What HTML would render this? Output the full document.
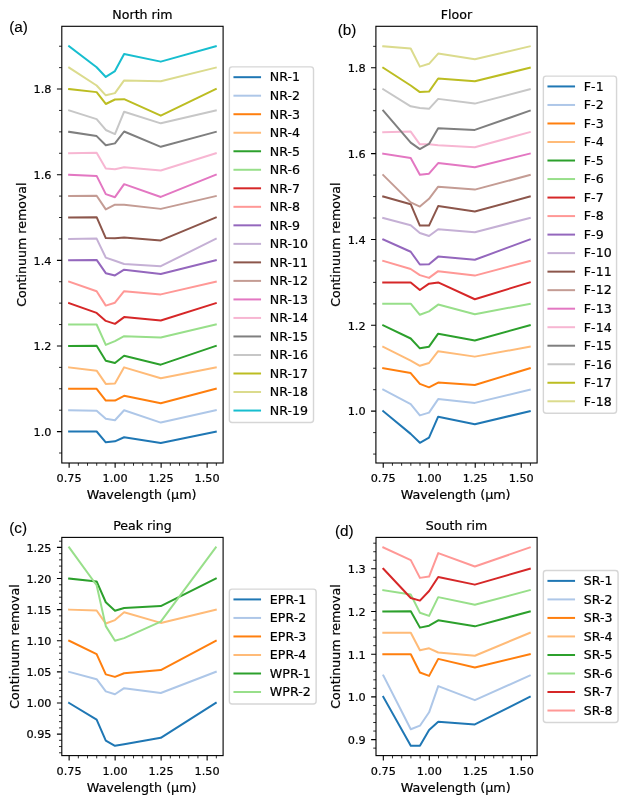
<!DOCTYPE html>
<html lang="en"><head><meta charset="utf-8"><title>Continuum removal spectra</title>
<style>html,body{margin:0;padding:0;background:#fff}svg{display:block}text{font-family:"DejaVu Sans","Liberation Sans",sans-serif;fill:#000;stroke:#000;stroke-width:.2px}.t{font-size:11.25px}.l{font-size:12.6px}.p{font-family:"Liberation Sans",Arial,sans-serif;font-size:15.3px;stroke-width:.12px}.ax{fill:none;stroke:#000;stroke-width:1.11;stroke-linejoin:miter}.tk{stroke:#000;stroke-width:1.11;fill:none}.d{fill:none;stroke-width:2.0;stroke-linejoin:round;stroke-linecap:square}.lg{fill:#fff;fill-opacity:.8;stroke:#ccc;stroke-opacity:.8;stroke-width:1.39}</style></head><body>
<svg width="627" height="805" viewBox="0 0 627 805">
<rect width="627" height="805" fill="#fff"/>
<g id="panel-a">
<polyline class="d" stroke="#1f77b4" points="69.13,431.6 96.63,431.52 105.79,442.36 114.96,441.34 124.12,437.26 160.78,442.99 215.77,431.6"/>
<polyline class="d" stroke="#aec7e8" points="69.13,410.19 96.63,410.85 105.79,418.76 114.96,420.29 124.12,410.21 160.78,422.59 215.77,410.19"/>
<polyline class="d" stroke="#ff7f0e" points="69.13,388.78 96.63,388.79 105.79,400.52 114.96,400.52 124.12,395.8 160.78,403.2 215.77,388.78"/>
<polyline class="d" stroke="#ffbb78" points="69.13,367.37 96.63,370.67 105.79,383.94 114.96,383.43 124.12,367.36 160.78,378.2 215.77,367.37"/>
<polyline class="d" stroke="#2ca02c" points="69.13,345.96 96.63,345.79 105.79,360.71 114.96,363.01 124.12,355.74 160.78,364.67 215.77,345.96"/>
<polyline class="d" stroke="#98df8a" points="69.13,324.55 96.63,324.49 105.79,344.9 114.96,341.07 124.12,336.22 160.78,337.5 215.77,324.55"/>
<polyline class="d" stroke="#d62728" points="69.13,303.14 96.63,312.88 105.79,320.92 114.96,323.85 124.12,317.09 160.78,320.54 215.77,303.14"/>
<polyline class="d" stroke="#ff9896" points="69.13,281.73 96.63,291.2 105.79,305.61 114.96,302.68 124.12,291.2 160.78,294.39 215.77,281.73"/>
<polyline class="d" stroke="#9467bd" points="69.13,260.32 96.63,259.9 105.79,273.16 114.96,275.46 124.12,269.72 160.78,273.93 215.77,260.32"/>
<polyline class="d" stroke="#c5b0d5" points="69.13,238.91 96.63,238.6 105.79,257.6 114.96,260.79 124.12,263.98 160.78,266.15 215.77,238.91"/>
<polyline class="d" stroke="#8c564b" points="69.13,217.5 96.63,217.17 105.79,238.09 114.96,238.21 124.12,237.58 160.78,240.38 215.77,217.5"/>
<polyline class="d" stroke="#c49c94" points="69.13,196.09 96.63,195.74 105.79,209.39 114.96,204.67 124.12,204.67 160.78,208.88 215.77,196.09"/>
<polyline class="d" stroke="#e377c2" points="69.13,174.68 96.63,175.89 105.79,194.13 114.96,197.19 124.12,184.18 160.78,196.94 215.77,174.68"/>
<polyline class="d" stroke="#f7b6d2" points="69.13,153.27 96.63,152.68 105.79,168.62 114.96,169.26 124.12,167.22 160.78,170.54 215.77,153.27"/>
<polyline class="d" stroke="#7f7f7f" points="69.13,131.86 96.63,136.1 105.79,145.28 114.96,143.37 124.12,131.51 160.78,146.81 215.77,131.86"/>
<polyline class="d" stroke="#c7c7c7" points="69.13,110.45 96.63,119.13 105.79,129.97 114.96,134.06 124.12,111.73 160.78,123.34 215.77,110.45"/>
<polyline class="d" stroke="#bcbd22" points="69.13,89.04 96.63,92.12 105.79,103.98 114.96,99.52 124.12,99.13 160.78,115.71 215.77,89.04"/>
<polyline class="d" stroke="#dbdb8d" points="69.13,67.63 96.63,85.48 105.79,95.31 114.96,93.14 124.12,80.38 160.78,81.28 215.77,67.63"/>
<polyline class="d" stroke="#17becf" points="69.13,46.22 96.63,67.24 105.79,76.94 114.96,71.07 124.12,53.98 160.78,61.63 215.77,46.22"/>
<path class="tk" d="M69.13 463v4.86M115.13 463v4.86M161.13 463v4.86M207.13 463v4.86M61.8 431.6h-4.86M61.8 345.96h-4.86M61.8 260.32h-4.86M61.8 174.68h-4.86M61.8 89.04h-4.86"/>
<path class="tk" style="stroke-width:.83" d="M78.33 463v2.78M87.53 463v2.78M96.73 463v2.78M105.93 463v2.78M124.33 463v2.78M133.53 463v2.78M142.73 463v2.78M151.93 463v2.78M170.33 463v2.78M179.53 463v2.78M188.73 463v2.78M197.93 463v2.78M216.33 463v2.78M61.8 453.01h-2.78M61.8 410.19h-2.78M61.8 388.78h-2.78M61.8 367.37h-2.78M61.8 324.55h-2.78M61.8 303.14h-2.78M61.8 281.73h-2.78M61.8 238.91h-2.78M61.8 217.5h-2.78M61.8 196.09h-2.78M61.8 153.27h-2.78M61.8 131.86h-2.78M61.8 110.45h-2.78M61.8 67.63h-2.78M61.8 46.22h-2.78"/>
<rect class="ax" x="61.8" y="26.3" width="161.3" height="436.7"/>
<text class="t" x="69.13" y="482.1" text-anchor="middle">0.75</text>
<text class="t" x="115.13" y="482.1" text-anchor="middle">1.00</text>
<text class="t" x="161.13" y="482.1" text-anchor="middle">1.25</text>
<text class="t" x="207.13" y="482.1" text-anchor="middle">1.50</text>
<text class="t" x="51.5" y="435.9" text-anchor="end">1.0</text>
<text class="t" x="51.5" y="350.26" text-anchor="end">1.2</text>
<text class="t" x="51.5" y="264.62" text-anchor="end">1.4</text>
<text class="t" x="51.5" y="178.98" text-anchor="end">1.6</text>
<text class="t" x="51.5" y="93.34" text-anchor="end">1.8</text>
<text class="l" style="font-size:12.73px" x="141.6" y="499.1" text-anchor="middle">Wavelength (µm)</text>
<text class="l" transform="translate(25.8 244.65) rotate(-90)" text-anchor="middle">Continuum removal</text>
<text class="l" x="142.45" y="18.85" text-anchor="middle">North rim</text>
<text class="p" x="9.15" y="31.7">(a)</text>
<rect class="lg" x="229.35" y="66.84" width="84.16" height="355.63" rx="2.8" ry="2.8"/>
<path class="d" stroke="#1f77b4" d="M234.45 77.19h25.6"/>
<text class="l" x="269.85" y="81.48">NR-1</text>
<path class="d" stroke="#aec7e8" d="M234.45 95.7h25.6"/>
<text class="l" x="269.85" y="100">NR-2</text>
<path class="d" stroke="#ff7f0e" d="M234.45 114.22h25.6"/>
<text class="l" x="269.85" y="118.52">NR-3</text>
<path class="d" stroke="#ffbb78" d="M234.45 132.75h25.6"/>
<text class="l" x="269.85" y="137.05">NR-4</text>
<path class="d" stroke="#2ca02c" d="M234.45 151.26h25.6"/>
<text class="l" x="269.85" y="155.56">NR-5</text>
<path class="d" stroke="#98df8a" d="M234.45 169.78h25.6"/>
<text class="l" x="269.85" y="174.09">NR-6</text>
<path class="d" stroke="#d62728" d="M234.45 188.31h25.6"/>
<text class="l" x="269.85" y="192.61">NR-7</text>
<path class="d" stroke="#ff9896" d="M234.45 206.82h25.6"/>
<text class="l" x="269.85" y="211.12">NR-8</text>
<path class="d" stroke="#9467bd" d="M234.45 225.34h25.6"/>
<text class="l" x="269.85" y="229.65">NR-9</text>
<path class="d" stroke="#c5b0d5" d="M234.45 243.87h25.6"/>
<text class="l" x="269.85" y="248.17">NR-10</text>
<path class="d" stroke="#8c564b" d="M234.45 262.38h25.6"/>
<text class="l" x="269.85" y="266.69">NR-11</text>
<path class="d" stroke="#c49c94" d="M234.45 280.9h25.6"/>
<text class="l" x="269.85" y="285.2">NR-12</text>
<path class="d" stroke="#e377c2" d="M234.45 299.43h25.6"/>
<text class="l" x="269.85" y="303.73">NR-13</text>
<path class="d" stroke="#f7b6d2" d="M234.45 317.94h25.6"/>
<text class="l" x="269.85" y="322.25">NR-14</text>
<path class="d" stroke="#7f7f7f" d="M234.45 336.46h25.6"/>
<text class="l" x="269.85" y="340.76">NR-15</text>
<path class="d" stroke="#c7c7c7" d="M234.45 354.99h25.6"/>
<text class="l" x="269.85" y="359.29">NR-16</text>
<path class="d" stroke="#bcbd22" d="M234.45 373.5h25.6"/>
<text class="l" x="269.85" y="377.81">NR-17</text>
<path class="d" stroke="#dbdb8d" d="M234.45 392.02h25.6"/>
<text class="l" x="269.85" y="396.32">NR-18</text>
<path class="d" stroke="#17becf" d="M234.45 410.55h25.6"/>
<text class="l" x="269.85" y="414.85">NR-19</text>
</g>
<g id="panel-b">
<polyline class="d" stroke="#1f77b4" points="383.23,411.15 410.7,433.89 419.86,442.82 429.02,437.72 438.18,416.67 474.82,424.33 529.77,411.15"/>
<polyline class="d" stroke="#aec7e8" points="383.23,389.69 410.7,404.17 419.86,415.4 429.02,412.59 438.18,399.07 474.82,402.9 529.77,389.69"/>
<polyline class="d" stroke="#ff7f0e" points="383.23,368.23 410.7,373.05 419.86,383.89 429.02,387.34 438.18,382.62 474.82,385.04 529.77,368.23"/>
<polyline class="d" stroke="#ffbb78" points="383.23,346.77 410.7,360.71 419.86,365.82 429.02,363.01 438.18,351.15 474.82,356.63 529.77,346.77"/>
<polyline class="d" stroke="#2ca02c" points="383.23,325.31 410.7,338.52 419.86,348.34 429.02,346.68 438.18,333.67 474.82,340.43 529.77,325.31"/>
<polyline class="d" stroke="#98df8a" points="383.23,303.85 410.7,303.7 419.86,314.8 429.02,311.35 438.18,304.59 474.82,314.29 529.77,303.85"/>
<polyline class="d" stroke="#d62728" points="383.23,282.39 410.7,282.4 419.86,290.05 429.02,283.67 438.18,282.4 474.82,299.23 529.77,282.39"/>
<polyline class="d" stroke="#ff9896" points="383.23,260.93 410.7,268.98 419.86,275.1 429.02,277.91 438.18,271.15 474.82,275.61 529.77,260.93"/>
<polyline class="d" stroke="#9467bd" points="383.23,239.47 410.7,251.76 419.86,264.52 429.02,264.26 438.18,256.61 474.82,259.8 529.77,239.47"/>
<polyline class="d" stroke="#c5b0d5" points="383.23,218.01 410.7,225.23 419.86,233.01 429.02,236.07 438.18,229.18 474.82,232.24 529.77,218.01"/>
<polyline class="d" stroke="#8c564b" points="383.23,196.55 410.7,204.18 419.86,225.61 429.02,225.61 438.18,206.1 474.82,211.58 529.77,196.55"/>
<polyline class="d" stroke="#c49c94" points="383.23,175.09 410.7,202.37 419.86,206.58 429.02,198.8 438.18,186.68 474.82,189.62 529.77,175.09"/>
<polyline class="d" stroke="#e377c2" points="383.23,153.63 410.7,157.98 419.86,174.69 429.02,173.67 438.18,163.09 474.82,167.3 529.77,153.63"/>
<polyline class="d" stroke="#f7b6d2" points="383.23,132.17 410.7,131.58 419.86,144.34 429.02,144.34 438.18,145.23 474.82,147.27 529.77,132.17"/>
<polyline class="d" stroke="#7f7f7f" points="383.23,110.71 410.7,142.68 419.86,149.06 429.02,143.95 438.18,128.14 474.82,129.92 529.77,110.71"/>
<polyline class="d" stroke="#c7c7c7" points="383.23,89.25 410.7,106.28 419.86,108.06 429.02,108.83 438.18,98.88 474.82,103.6 529.77,89.25"/>
<polyline class="d" stroke="#bcbd22" points="383.23,67.79 410.7,85.48 419.86,92.12 429.02,91.61 438.18,78.47 474.82,81.28 529.77,67.79"/>
<polyline class="d" stroke="#dbdb8d" points="383.23,46.33 410.7,48.49 419.86,66.61 429.02,63.8 438.18,53.6 474.82,59.34 529.77,46.33"/>
<path class="tk" d="M383.23 463v4.86M429.23 463v4.86M475.23 463v4.86M521.23 463v4.86M375.9 411.15h-4.86M375.9 325.31h-4.86M375.9 239.47h-4.86M375.9 153.63h-4.86M375.9 67.79h-4.86"/>
<path class="tk" style="stroke-width:.83" d="M392.43 463v2.78M401.63 463v2.78M410.83 463v2.78M420.03 463v2.78M438.43 463v2.78M447.63 463v2.78M456.83 463v2.78M466.03 463v2.78M484.43 463v2.78M493.63 463v2.78M502.83 463v2.78M512.03 463v2.78M530.43 463v2.78M375.9 454.07h-2.78M375.9 432.61h-2.78M375.9 389.69h-2.78M375.9 368.23h-2.78M375.9 346.77h-2.78M375.9 303.85h-2.78M375.9 282.39h-2.78M375.9 260.93h-2.78M375.9 218.01h-2.78M375.9 196.55h-2.78M375.9 175.09h-2.78M375.9 132.17h-2.78M375.9 110.71h-2.78M375.9 89.25h-2.78M375.9 46.33h-2.78"/>
<rect class="ax" x="375.9" y="26.3" width="161.2" height="436.7"/>
<text class="t" x="383.23" y="482.1" text-anchor="middle">0.75</text>
<text class="t" x="429.23" y="482.1" text-anchor="middle">1.00</text>
<text class="t" x="475.23" y="482.1" text-anchor="middle">1.25</text>
<text class="t" x="521.23" y="482.1" text-anchor="middle">1.50</text>
<text class="t" x="365.6" y="415.45" text-anchor="end">1.0</text>
<text class="t" x="365.6" y="329.61" text-anchor="end">1.2</text>
<text class="t" x="365.6" y="243.77" text-anchor="end">1.4</text>
<text class="t" x="365.6" y="157.93" text-anchor="end">1.6</text>
<text class="t" x="365.6" y="72.09" text-anchor="end">1.8</text>
<text class="l" style="font-size:12.73px" x="455.65" y="499.1" text-anchor="middle">Wavelength (µm)</text>
<text class="l" transform="translate(339.8 244.65) rotate(-90)" text-anchor="middle">Continuum removal</text>
<text class="l" x="456.5" y="18.85" text-anchor="middle">Floor</text>
<text class="p" x="337.75" y="34.6">(b)</text>
<rect class="lg" x="543.35" y="76.09" width="73.22" height="337.11" rx="2.8" ry="2.8"/>
<path class="d" stroke="#1f77b4" d="M548.45 86.44h25.6"/>
<text class="l" x="583.85" y="90.74">F-1</text>
<path class="d" stroke="#aec7e8" d="M548.45 104.96h25.6"/>
<text class="l" x="583.85" y="109.26">F-2</text>
<path class="d" stroke="#ff7f0e" d="M548.45 123.48h25.6"/>
<text class="l" x="583.85" y="127.78">F-3</text>
<path class="d" stroke="#ffbb78" d="M548.45 142h25.6"/>
<text class="l" x="583.85" y="146.31">F-4</text>
<path class="d" stroke="#2ca02c" d="M548.45 160.52h25.6"/>
<text class="l" x="583.85" y="164.82">F-5</text>
<path class="d" stroke="#98df8a" d="M548.45 179.04h25.6"/>
<text class="l" x="583.85" y="183.34">F-6</text>
<path class="d" stroke="#d62728" d="M548.45 197.56h25.6"/>
<text class="l" x="583.85" y="201.87">F-7</text>
<path class="d" stroke="#ff9896" d="M548.45 216.08h25.6"/>
<text class="l" x="583.85" y="220.38">F-8</text>
<path class="d" stroke="#9467bd" d="M548.45 234.6h25.6"/>
<text class="l" x="583.85" y="238.91">F-9</text>
<path class="d" stroke="#c5b0d5" d="M548.45 253.12h25.6"/>
<text class="l" x="583.85" y="257.43">F-10</text>
<path class="d" stroke="#8c564b" d="M548.45 271.64h25.6"/>
<text class="l" x="583.85" y="275.94">F-11</text>
<path class="d" stroke="#c49c94" d="M548.45 290.16h25.6"/>
<text class="l" x="583.85" y="294.46">F-12</text>
<path class="d" stroke="#e377c2" d="M548.45 308.69h25.6"/>
<text class="l" x="583.85" y="312.99">F-13</text>
<path class="d" stroke="#f7b6d2" d="M548.45 327.2h25.6"/>
<text class="l" x="583.85" y="331.5">F-14</text>
<path class="d" stroke="#7f7f7f" d="M548.45 345.72h25.6"/>
<text class="l" x="583.85" y="350.02">F-15</text>
<path class="d" stroke="#c7c7c7" d="M548.45 364.25h25.6"/>
<text class="l" x="583.85" y="368.55">F-16</text>
<path class="d" stroke="#bcbd22" d="M548.45 382.76h25.6"/>
<text class="l" x="583.85" y="387.06">F-17</text>
<path class="d" stroke="#dbdb8d" d="M548.45 401.28h25.6"/>
<text class="l" x="583.85" y="405.58">F-18</text>
</g>
<g id="panel-c">
<polyline class="d" stroke="#1f77b4" points="69.13,702.99 96.63,719.69 105.79,740.61 114.96,745.84 124.12,744.18 160.78,737.81 215.77,702.99"/>
<polyline class="d" stroke="#aec7e8" points="69.13,671.87 96.63,679.21 105.79,691.33 114.96,694.26 124.12,688.14 160.78,692.98 215.77,671.87"/>
<polyline class="d" stroke="#ff7f0e" points="69.13,640.75 96.63,654.08 105.79,674.36 114.96,676.91 124.12,673.21 160.78,670.03 215.77,640.75"/>
<polyline class="d" stroke="#ffbb78" points="69.13,609.64 96.63,610.54 105.79,623.55 114.96,620.1 124.12,612.32 160.78,622.91 215.77,609.64"/>
<polyline class="d" stroke="#2ca02c" points="69.13,578.53 96.63,581.45 105.79,602.24 114.96,610.79 124.12,607.98 160.78,606.07 215.77,578.53"/>
<polyline class="d" stroke="#98df8a" points="69.13,547.41 96.63,585.28 105.79,626.1 114.96,640.69 124.12,638.14 160.78,621.63 215.77,547.41"/>
<path class="tk" d="M69.13 755.6v4.86M115.13 755.6v4.86M161.13 755.6v4.86M207.13 755.6v4.86M61.8 734.1h-4.86M61.8 702.99h-4.86M61.8 671.87h-4.86M61.8 640.75h-4.86M61.8 609.64h-4.86M61.8 578.53h-4.86M61.8 547.41h-4.86"/>
<path class="tk" style="stroke-width:.83" d="M78.33 755.6v2.78M87.53 755.6v2.78M96.73 755.6v2.78M105.93 755.6v2.78M124.33 755.6v2.78M133.53 755.6v2.78M142.73 755.6v2.78M151.93 755.6v2.78M170.33 755.6v2.78M179.53 755.6v2.78M188.73 755.6v2.78M197.93 755.6v2.78M216.33 755.6v2.78M61.8 752.77h-2.78M61.8 746.55h-2.78M61.8 740.32h-2.78M61.8 727.88h-2.78M61.8 721.65h-2.78M61.8 715.43h-2.78M61.8 709.21h-2.78M61.8 696.76h-2.78M61.8 690.54h-2.78M61.8 684.32h-2.78M61.8 678.09h-2.78M61.8 665.65h-2.78M61.8 659.42h-2.78M61.8 653.2h-2.78M61.8 646.98h-2.78M61.8 634.53h-2.78M61.8 628.31h-2.78M61.8 622.09h-2.78M61.8 615.86h-2.78M61.8 603.42h-2.78M61.8 597.19h-2.78M61.8 590.97h-2.78M61.8 584.75h-2.78M61.8 572.3h-2.78M61.8 566.08h-2.78M61.8 559.86h-2.78M61.8 553.63h-2.78M61.8 541.19h-2.78"/>
<rect class="ax" x="61.8" y="537.4" width="161.3" height="218.2"/>
<text class="t" x="69.13" y="774.7" text-anchor="middle">0.75</text>
<text class="t" x="115.13" y="774.7" text-anchor="middle">1.00</text>
<text class="t" x="161.13" y="774.7" text-anchor="middle">1.25</text>
<text class="t" x="207.13" y="774.7" text-anchor="middle">1.50</text>
<text class="t" x="51.5" y="738.4" text-anchor="end">0.95</text>
<text class="t" x="51.5" y="707.28" text-anchor="end">1.00</text>
<text class="t" x="51.5" y="676.17" text-anchor="end">1.05</text>
<text class="t" x="51.5" y="645.05" text-anchor="end">1.10</text>
<text class="t" x="51.5" y="613.94" text-anchor="end">1.15</text>
<text class="t" x="51.5" y="582.83" text-anchor="end">1.20</text>
<text class="t" x="51.5" y="551.71" text-anchor="end">1.25</text>
<text class="l" style="font-size:12.73px" x="141.6" y="791.7" text-anchor="middle">Wavelength (µm)</text>
<text class="l" transform="translate(19.1 646.5) rotate(-90)" text-anchor="middle">Continuum removal</text>
<text class="l" x="142.45" y="529.95" text-anchor="middle">Peak ring</text>
<text class="p" x="9.15" y="532.7">(c)</text>
<rect class="lg" x="229.35" y="589.07" width="86.78" height="114.87" rx="2.8" ry="2.8"/>
<path class="d" stroke="#1f77b4" d="M234.45 599.42h25.6"/>
<text class="l" x="269.85" y="603.72">EPR-1</text>
<path class="d" stroke="#aec7e8" d="M234.45 617.94h25.6"/>
<text class="l" x="269.85" y="622.24">EPR-2</text>
<path class="d" stroke="#ff7f0e" d="M234.45 636.46h25.6"/>
<text class="l" x="269.85" y="640.75">EPR-3</text>
<path class="d" stroke="#ffbb78" d="M234.45 654.98h25.6"/>
<text class="l" x="269.85" y="659.28">EPR-4</text>
<path class="d" stroke="#2ca02c" d="M234.45 673.5h25.6"/>
<text class="l" x="269.85" y="677.8">WPR-1</text>
<path class="d" stroke="#98df8a" d="M234.45 692.02h25.6"/>
<text class="l" x="269.85" y="696.32">WPR-2</text>
</g>
<g id="panel-d">
<polyline class="d" stroke="#1f77b4" points="383.32,696.9 410.78,745.84 419.94,745.71 429.09,729.9 438.24,721.86 474.86,724.41 529.78,696.9"/>
<polyline class="d" stroke="#aec7e8" points="383.32,675.55 410.78,729.26 419.94,725.69 429.09,712.3 438.24,686.15 474.86,700.18 529.78,675.55"/>
<polyline class="d" stroke="#ff7f0e" points="383.32,654.2 410.78,654.18 419.94,672.55 429.09,675.87 438.24,658.9 474.86,667.58 529.78,654.2"/>
<polyline class="d" stroke="#ffbb78" points="383.32,632.85 410.78,632.76 419.94,650.23 429.09,648.32 438.24,652.53 474.86,655.71 529.78,632.85"/>
<polyline class="d" stroke="#2ca02c" points="383.32,611.5 410.78,611.17 419.94,627.63 429.09,625.71 438.24,620.36 474.86,626.35 529.78,611.5"/>
<polyline class="d" stroke="#98df8a" points="383.32,590.15 410.78,594.59 419.94,612.7 429.09,615.89 438.24,597.14 474.86,604.8 529.78,590.15"/>
<polyline class="d" stroke="#d62728" points="383.32,568.8 410.78,598.04 419.94,600.59 429.09,591.02 438.24,576.99 474.86,584.64 529.78,568.8"/>
<polyline class="d" stroke="#ff9896" points="383.32,547.45 410.78,560.15 419.94,577.88 429.09,576.61 438.24,553.14 474.86,566.53 529.78,547.45"/>
<path class="tk" d="M383.32 755.6v4.86M429.32 755.6v4.86M475.32 755.6v4.86M521.32 755.6v4.86M376 739.6h-4.86M376 696.9h-4.86M376 654.2h-4.86M376 611.5h-4.86M376 568.8h-4.86"/>
<path class="tk" style="stroke-width:.83" d="M392.52 755.6v2.78M401.72 755.6v2.78M410.92 755.6v2.78M420.12 755.6v2.78M438.52 755.6v2.78M447.72 755.6v2.78M456.92 755.6v2.78M466.12 755.6v2.78M484.52 755.6v2.78M493.72 755.6v2.78M502.92 755.6v2.78M512.12 755.6v2.78M530.52 755.6v2.78M376 748.14h-2.78M376 731.06h-2.78M376 722.52h-2.78M376 713.98h-2.78M376 705.44h-2.78M376 688.36h-2.78M376 679.82h-2.78M376 671.28h-2.78M376 662.74h-2.78M376 645.66h-2.78M376 637.12h-2.78M376 628.58h-2.78M376 620.04h-2.78M376 602.96h-2.78M376 594.42h-2.78M376 585.88h-2.78M376 577.34h-2.78M376 560.26h-2.78M376 551.72h-2.78M376 543.18h-2.78"/>
<rect class="ax" x="376" y="537.4" width="161.1" height="218.2"/>
<text class="t" x="383.32" y="774.7" text-anchor="middle">0.75</text>
<text class="t" x="429.32" y="774.7" text-anchor="middle">1.00</text>
<text class="t" x="475.32" y="774.7" text-anchor="middle">1.25</text>
<text class="t" x="521.32" y="774.7" text-anchor="middle">1.50</text>
<text class="t" x="365.7" y="743.9" text-anchor="end">0.9</text>
<text class="t" x="365.7" y="701.2" text-anchor="end">1.0</text>
<text class="t" x="365.7" y="658.5" text-anchor="end">1.1</text>
<text class="t" x="365.7" y="615.8" text-anchor="end">1.2</text>
<text class="t" x="365.7" y="573.1" text-anchor="end">1.3</text>
<text class="l" style="font-size:12.73px" x="455.7" y="791.7" text-anchor="middle">Wavelength (µm)</text>
<text class="l" transform="translate(339.8 646.5) rotate(-90)" text-anchor="middle">Continuum removal</text>
<text class="l" x="456.55" y="529.95" text-anchor="middle">South rim</text>
<text class="p" x="334.95" y="535.7">(d)</text>
<rect class="lg" x="543.35" y="570.54" width="74.72" height="151.91" rx="2.8" ry="2.8"/>
<path class="d" stroke="#1f77b4" d="M548.45 580.89h25.6"/>
<text class="l" x="583.85" y="585.19">SR-1</text>
<path class="d" stroke="#aec7e8" d="M548.45 599.41h25.6"/>
<text class="l" x="583.85" y="603.71">SR-2</text>
<path class="d" stroke="#ff7f0e" d="M548.45 617.93h25.6"/>
<text class="l" x="583.85" y="622.23">SR-3</text>
<path class="d" stroke="#ffbb78" d="M548.45 636.45h25.6"/>
<text class="l" x="583.85" y="640.75">SR-4</text>
<path class="d" stroke="#2ca02c" d="M548.45 654.98h25.6"/>
<text class="l" x="583.85" y="659.27">SR-5</text>
<path class="d" stroke="#98df8a" d="M548.45 673.5h25.6"/>
<text class="l" x="583.85" y="677.79">SR-6</text>
<path class="d" stroke="#d62728" d="M548.45 692.01h25.6"/>
<text class="l" x="583.85" y="696.31">SR-7</text>
<path class="d" stroke="#ff9896" d="M548.45 710.53h25.6"/>
<text class="l" x="583.85" y="714.83">SR-8</text>
</g>
</svg></body></html>
